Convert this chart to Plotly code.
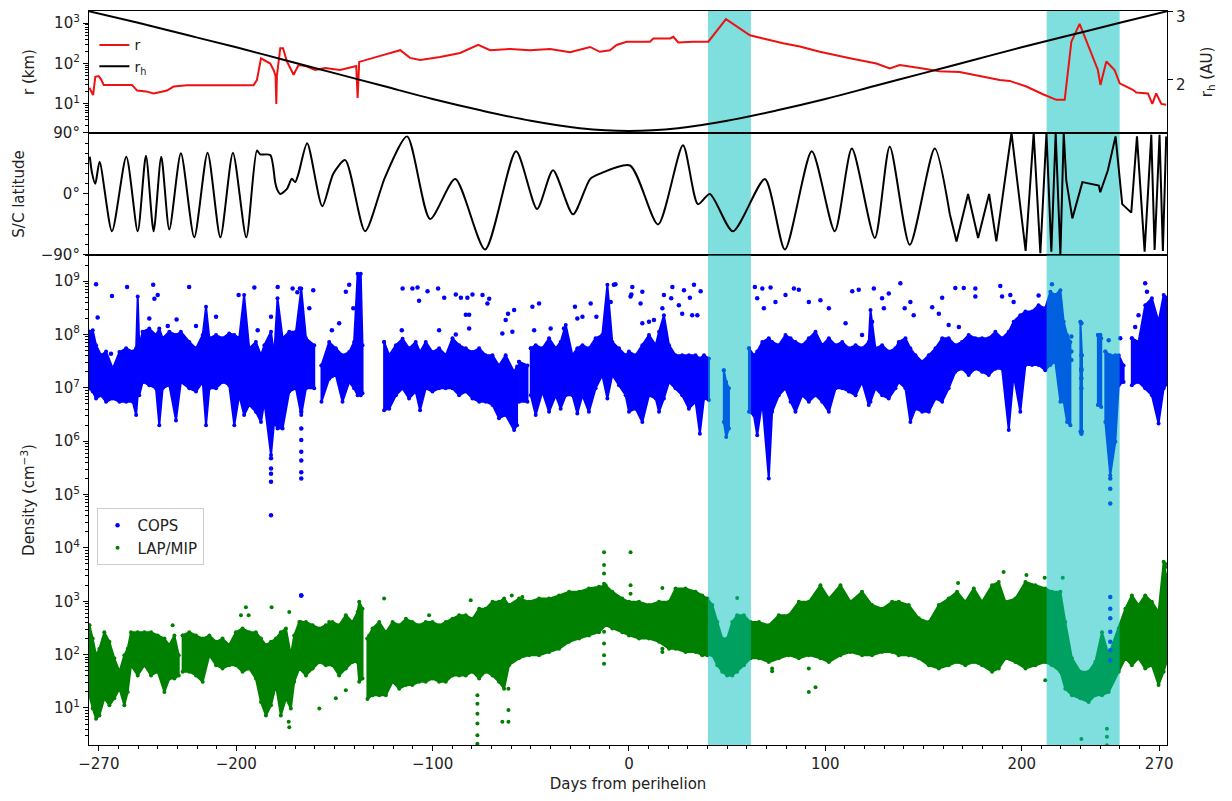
import plotly.graph_objects as go

# ---------------- data ----------------
# Top panel: cometocentric distance r (km, log10) and heliocentric distance r_h (AU)
r_day = [-274.8, -273.6, -272.9, -271.8, -270.1, -269.0, -267.5, -253.1, -250.5, -246.0, -242.1, -238.0,
         -235.3, -231.9, -225.1, -191.2, -189.5, -187.4, -182.7, -181.0, -180.0, -179.6, -179.3, -177.6,
         -176.2, -174.2, -170.8, -168.3, -164.9, -159.8, -154.7, -147.1, -142.0, -138.9, -138.2, -137.4,
         -126.7, -116.5, -111.5, -106.4, -96.2, -86.0, -76.8, -70.7, -60.6, -50.4, -40.2, -30.0, -19.8,
         -14.8, -9.7, -6.3, -1.2, 10.7, 12.4, 20.9, 22.6, 25.1, 32.7, 40.4, 49.4, 61.6, 68.3, 78.5, 87.0,
         97.2, 112.5, 126.0, 132.8, 137.9, 148.0, 158.0, 168.4, 178.6, 188.8, 193.9, 202.4, 210.8, 214.2,
         217.7, 221.9, 225.3, 229.5, 238.8, 240.1, 243.1, 247.3, 249.9, 256.6, 258.4, 264.3, 266.5, 268.5,
         271.1, 273.6]
r_log = [1.40, 1.28, 1.22, 1.67, 1.69, 1.62, 1.47, 1.47, 1.33, 1.31, 1.26, 1.30,
         1.33, 1.43, 1.46, 1.46, 1.59, 2.13, 2.00, 1.84, 1.70, 1.00, 1.70, 2.38,
         2.38, 2.05, 1.72, 1.96, 1.94, 1.84, 1.89, 1.84, 1.91, 1.94, 1.15, 2.04,
         2.19, 2.33, 2.14, 2.09, 2.16, 2.26, 2.46, 2.33, 2.36, 2.33, 2.36, 2.28, 2.41,
         2.29, 2.33, 2.46, 2.54, 2.54, 2.62, 2.62, 2.66, 2.52, 2.54, 2.54, 3.10, 2.70, 2.62, 2.50, 2.42,
         2.29, 2.13, 2.00, 1.88, 1.96, 1.89, 1.81, 1.79, 1.69, 1.59, 1.57, 1.43, 1.24, 1.17,
         1.10, 1.10, 2.54, 2.98, 1.84, 1.47, 2.05, 1.84, 1.51, 1.35, 1.28, 1.26, 1.00, 1.26,
         1.00, 0.98]

rh_day = [-275, -250, -225, -200, -175, -150, -125, -100, -75, -50, -25, 0,
          25, 50, 75, 100, 125, 150, 175, 200, 225, 250, 274]
rh_au = [3.00, 2.83, 2.65, 2.47, 2.28, 2.09, 1.90, 1.71, 1.54, 1.39, 1.28, 1.24,
         1.28, 1.39, 1.54, 1.71, 1.90, 2.09, 2.28, 2.47, 2.65, 2.83, 3.00]

# Middle panel: spacecraft latitude (deg)
lat_day = [-274.6, -273.4, -271.8, -269.6, -263.3, -256.0, -250.2, -246.0, -242.1, -238.2, -234.1,
           -228.2, -221.4, -214.6, -208.1, -201.7, -194.9, -189.5, -187.8, -182.7, -180.2, -179.3,
           -177.6, -174.2, -171.7, -170.0, -168.3, -163.9, -156.2, -150.6, -144.5, -134.4, -124.2,
           -113.0, -101.3, -88.5, -73.3, -57.5, -46.8, -38.7, -28.5, -19.8, -14.8, 0.5, 14.8, 27.5,
           35.1, 41.2, 52.9, 69.2, 79.4, 93.1, 104.8, 113.5, 125.2, 132.8, 143.0, 155.7,
           163.4, 166.8, 172.7, 177.8, 183.4, 187.1, 194.8, 202.0,
           206.1, 209.5, 212.6, 215.1, 217.3, 219.7, 221.4, 222.7, 225.8, 230.9, 239.3, 240.0, 243.9,
           247.8, 251.2, 255.8, 258.7, 262.6, 266.0, 267.7, 270.2, 271.9, 273.6]
lat_deg = [55, 30, 15, 47.5, -55, 55, -55, 56.5, -55, 55, -52.5,
           60, -64, 61, -64, 61, -64, 64, 58.5, 57.5, 17.5, 7.5,
           0, 7.5, 22.5, 17.5, 30, 75, -18, 30, 50, -55, 25,
           85, -37, 22, -82, 63, -22, 35, -30, 22, 30, 42, -45, 72,
           -15, 0, -55, 22, -82, 63, -55, 67, -65, 70, -75, 67,
           -30, -70, 0, -65, 0, -70, 90, -84,
           90, -87.5, 90, -85, 90, -90, 90, 20, -36, 17.5, 12.5, 2.5, 35,
           85, -15, -27.5, 85, -85, 87.5, -82.5, 87.5, -84, 85]
lat_smooth_until = 163.4   # the curve is smooth before this day, straight-segmented after

# Bottom panel: COPS density envelope (log10 cm^-3), separate contiguous segments
cops_day = [
    [-274.8, -273.1, -271.4, -268.9, -266.3, -262.9, -259.5, -256.1, -252.7, -251.0, -250.2, -249.4,
     -247.7, -244.3, -240.9, -239.2, -237.5, -234.1, -230.7, -228.2, -223.9, -220.5, -217.1, -215.4,
     -213.7, -210.3, -207.0, -203.6, -201.0, -198.5, -196.0, -193.4, -190.0, -187.4, -185.7, -182.3,
     -180.7, -179.0, -176.4, -173.0, -169.6, -166.9, -164.5, -160.3],
    [-156.6, -152.7, -149.3, -145.9, -142.5, -140.0, -138.2, -136.6, -135.7],
    [-124.7, -122.1, -118.7, -115.3, -112.0, -108.6, -106.4, -103.5, -100.1, -96.7, -93.3, -89.9,
     -86.5, -83.1, -79.7, -76.3, -73.0, -69.5, -66.2, -62.8, -58.5, -57.0],
    [-56.0, -51.7],
    [-50.0, -47.5, -44.1, -40.7, -37.3, -34.8, -32.2, -28.8, -26.3, -23.7, -20.4, -17.0, -13.6, -11.0,
     -8.5, -5.1, -1.7, 0.0, 3.4, 6.8, 10.2, 13.6, 15.3, 17.8, 20.4, 23.7, 27.1, 30.5, 33.9, 36.1,
     38.2, 40.7],
    [48.3, 49.5, 50.9],
    [61.1, 63.6, 65.3, 67.9, 71.2, 72.9, 76.3, 79.7, 82.3, 84.8, 88.2, 91.6, 95.0, 98.4, 101.8,
     105.2, 108.6, 112.0, 115.4, 118.7, 122.1, 123.0, 125.5, 128.9, 132.3, 135.7, 137.4, 140.8,
     143.3, 145.9, 149.3, 152.7, 156.1, 159.5, 162.8, 166.2, 169.6, 173.0, 176.4, 179.8, 183.2,
     186.6, 190.0, 193.4, 195.9, 199.3, 201.9, 205.3, 208.6, 212.0, 214.6, 217.1, 219.7, 221.4,
     223.1, 224.8],
    [229.9, 230.7],
    [238.8, 240.5],
    [242.6, 245.1, 247.7, 249.4, 251.9],
    [256.1, 259.5, 262.9, 266.3, 269.7, 272.3, 274.8],
]
cops_hi = [
    [8.05, 8.08, 7.80, 7.61, 7.68, 7.36, 7.67, 7.74, 7.68, 7.74, 8.71, 7.80,
     8.05, 8.11, 7.99, 8.11, 7.93, 8.05, 7.99, 8.05, 7.86, 7.74, 7.99, 8.52,
     7.93, 7.99, 7.93, 8.02, 7.99, 7.93, 8.74, 7.74, 7.86, 7.61, 7.80, 8.05,
     7.61, 8.68, 7.93, 8.05, 8.05, 8.86, 7.93, 7.80],
    [7.42, 7.86, 7.74, 7.61, 7.67, 7.86, 9.14, 9.14, 7.80],
    [7.86, 7.61, 7.80, 7.92, 7.74, 7.86, 7.67, 7.86, 7.67, 7.74, 7.61, 7.93,
     7.80, 7.74, 7.67, 7.74, 7.61, 7.61, 7.42, 7.61, 7.30, 7.40],
    [7.49, 7.42],
    [7.74, 7.80, 7.74, 7.93, 7.74, 7.86, 8.18, 7.61, 7.74, 7.80, 7.74, 7.93, 7.99, 8.93,
     7.86, 7.74, 7.61, 7.68, 7.61, 7.80, 7.99, 7.80, 8.05, 8.36, 7.80, 7.61, 7.61, 7.61, 7.61, 7.55,
     7.61, 7.55],
    [7.33, 7.11, 6.99],
    [7.74, 7.61, 7.68, 7.86, 7.93, 7.86, 7.80, 7.99, 7.93, 7.86, 7.80, 7.93, 8.05, 7.80, 7.93,
     7.80, 7.86, 7.74, 7.80, 7.74, 7.86, 8.46, 7.74, 7.80, 7.68, 7.74, 7.86, 7.93,
     7.74, 7.61, 7.49, 7.61, 7.74, 7.93, 7.93, 7.80, 7.86, 7.99, 7.93, 7.93, 7.93,
     8.05, 7.93, 8.05, 8.24, 8.36, 8.43, 8.43, 8.55, 8.49, 8.80, 8.74, 8.83, 8.24,
     7.99, 7.86],
    [8.24, 7.61],
    [7.99, 7.93],
    [7.68, 7.61, 7.61, 7.61, 7.42],
    [7.93, 7.86, 8.55, 8.68, 8.24, 8.74, 8.68],
]
cops_lo = [
    [6.99, 6.93, 6.80, 6.86, 6.74, 6.80, 6.74, 6.74, 6.74, 6.49, 6.86, 6.86,
     7.11, 7.05, 6.99, 6.30, 6.99, 7.05, 6.39, 7.11, 6.99, 6.93, 7.11, 6.30,
     6.99, 6.99, 7.11, 7.05, 6.30, 6.86, 6.49, 6.68, 6.55, 6.36, 6.74, 5.74,
     6.36, 6.24, 6.24, 6.93, 6.99, 6.49, 6.99, 6.99],
    [6.74, 7.17, 7.24, 6.74, 7.11, 6.99, 6.86, 6.86, 6.90],
    [6.58, 6.61, 6.86, 6.99, 6.80, 6.93, 6.58, 6.99, 6.93, 6.99, 6.99, 6.99,
     6.86, 6.93, 6.80, 6.74, 6.74, 6.68, 6.43, 6.49, 6.21, 6.30],
    [6.74, 6.74],
    [6.86, 6.49, 6.93, 6.55, 6.86, 6.61, 6.86, 6.86, 6.52, 6.86, 6.55, 6.99, 7.24, 6.80,
     7.24, 7.05, 6.86, 6.55, 6.61, 6.36, 6.86, 6.80, 6.55, 6.80, 7.11, 6.99, 6.86, 6.61, 6.74, 6.14,
     6.80, 6.77],
    [6.36, 6.08, 6.24],
    [6.55, 6.49, 6.11, 6.74, 5.30, 6.55, 6.86, 6.99, 6.74, 6.55, 6.86, 6.74, 6.86, 6.74, 6.55,
     6.99, 6.99, 6.93, 6.86, 7.11, 6.68, 6.74, 6.99, 6.86, 6.80, 6.99, 7.11, 6.99,
     6.36, 6.61, 6.55, 6.55, 6.80, 6.74, 6.99, 7.30, 7.36, 7.24, 7.36, 7.30, 7.24,
     7.36, 7.36, 6.21, 7.24, 6.55, 7.43, 7.43, 7.43, 7.33, 7.43, 7.49, 6.74, 6.74,
     6.36, 6.30],
    [6.18, 6.18],
    [6.68, 6.64],
    [6.36, 5.36, 5.99, 7.05, 7.11],
    [7.05, 7.11, 6.99, 6.86, 6.33, 6.99, 7.11],
]
cops_pt_day = [-271.4, -270.6, -263.3, -255.6, -242.3, -241.7, -240.0, -224.0, -244.3, -230.4, -220.5,
               -234.9, -210.3, -198.8, -190.8, -178.9, -171.3, -167.6, -168.9, -162.8, -160.8, -144.2,
               -142.5, -147.6, -182.3, -189.1, -151.3, -140.4, -269.7, -263.8,
               -182.3, -182.3, -182.3, -182.3, -182.3, -166.9, -166.9, -166.9, -166.9, -166.9, -166.9,
               -166.9, -166.9,
               -115.3, -110.3, -107.7, -102.6, -97.2, -94.1, -88.2, -85.6, -82.3, -79.7, -74.6, -72.1,
               -71.2, -106.9, -83.1, -81.4, -62.8, -61.6, -58.5, -49.2, -45.8, -27.5, -19.5, -26.3, -23.7,
               -16.6, -9.3, -7.7, -6.9, 1.2, -115.7, -96.7, -88.2, -81.4, -64.5, -59.4, -48.3, -39.9, -33.1,
               1.7, 6.8, 17.8, 22.1, 28.0, 33.1, 36.5, 0.8, 5.9, 21.5, 31.0, 27.1, 32.2, 17.0, 10.2, 12.7,
               25.4, 34.8, 6.8, 64.1, 67.9, 72.1, 65.3, 68.7, 74.6, 84.0, 86.5, 79.7, 91.6, 97.5, 101.8,
               113.7, 117.0, 124.7, 128.9, 132.3, 129.8, 110.3, 118.7, 123.8,
               138.2, 143.3, 159.5, 166.2, 170.5, 176.4, 176.4, 189.1, 190.0, 194.2, 195.9, 154.4, 157.8,
               162.8, 168.0, 145.0, 140.4, 208.6, 215.4, 230.4, 230.4, 230.4, 230.4, 230.4, 230.4, 230.4,
               225.3, 225.3, 225.3, 245.1, 245.1, 245.1, 240.0, 244.3, 250.2, 262.9, 263.8, 263.8, 259.5,
               257.8, -166.9, 245.1, 245.1, 245.1, 245.1, 245.1, 245.1, 245.1]
cops_pt_log = [8.94, 8.32, 8.72, 8.89, 8.93, 8.67, 8.74, 8.89, 8.30, 8.28, 8.16,
               8.16, 8.33, 8.74, 8.88, 8.89, 8.86, 8.86, 8.79, 8.49, 8.83, 8.80,
               8.93, 8.21, 8.33, 8.08, 8.08, 8.49, 7.55, 7.64,
               5.68, 5.49, 5.39, 5.24, 4.61, 6.55, 6.24, 6.02, 5.80, 5.64, 5.42, 5.30, 3.11,
               8.86, 8.86, 8.88, 8.81, 8.86, 8.69, 8.75, 8.69, 8.69, 8.75, 8.74, 8.58,
               8.67, 8.63, 8.37, 8.37, 8.27, 8.39, 8.46, 8.52, 8.58, 8.52, 8.58, 8.30, 8.33,
               8.33, 8.61, 8.93, 8.94, 8.75, 8.08, 8.08, 8.00, 8.11, 8.02, 8.05, 8.08, 8.11, 8.11,
               8.89, 8.80, 8.74, 8.89, 8.83, 8.93, 8.81, 8.71, 8.58, 8.68, 8.69, 8.39, 8.36, 8.49, 8.24,
               8.27, 8.55, 8.36, 8.21, 8.89, 8.86, 8.88, 8.68, 8.49, 8.61, 8.86, 8.84, 8.74, 8.61,
               8.64, 8.49, 8.81, 8.84, 8.86, 8.68, 8.77, 8.49, 8.21, 7.99, 8.24,
               8.96, 8.61, 8.69, 8.87, 8.87, 8.86, 8.71, 8.91, 8.71, 8.74, 8.61, 8.51, 8.39,
               8.18, 8.14, 8.36, 8.49, 8.73, 8.94, 8.21, 7.33, 6.14, 7.61, 7.36, 7.18, 6.99,
               7.96, 7.68, 7.52, 5.30, 5.11, 4.83, 7.99, 7.89, 7.93, 8.96, 8.80, 8.55, 8.36,
               8.14, 3.11, 3.08, 2.86, 2.68, 2.43, 2.24, 2.08, 1.89]

# Bottom panel: LAP/MIP density envelope (log10 cm^-3)
lap_day = [
    [-274.8, -273.1, -271.4, -269.7, -267.2, -264.6, -262.1, -259.5, -257.0, -255.3, -253.6, -250.2,
     -246.8, -243.4, -240.0, -236.6, -234.1, -231.5, -229.3],
    [-227.3, -223.9, -220.5, -217.1, -213.7, -210.3, -207.0, -203.6, -200.2, -196.8, -193.4, -190.0,
     -187.4, -184.9, -182.3, -179.8, -177.3, -174.7, -172.2, -170.5, -167.9, -164.5, -161.1, -157.7,
     -154.4, -151.0, -147.6, -144.2, -140.8, -138.2, -137.4, -135.7],
    [-133.2, -130.6, -127.2, -123.8, -120.4, -117.0, -113.6, -110.3, -106.9, -103.5, -100.1, -96.7,
     -93.3, -89.9, -86.5, -83.1, -79.7, -76.3, -73.0, -69.5, -66.2, -63.6, -61.1, -56.0, -50.9, -45.8,
     -40.7, -35.6, -30.5, -25.4, -20.4, -15.3, -11.9, -8.5, -3.4, 0.0, 5.1, 10.2, 15.3, 20.4, 23.7,
     28.8, 33.9, 37.3, 39.9, 42.4, 45.0, 47.5, 50.0, 52.6, 55.1, 58.5, 61.9, 66.2, 71.2, 76.3, 81.4,
     86.5, 91.6, 97.5, 101.8, 107.7, 112.8, 118.7, 123.8, 128.9, 134.0, 137.4, 142.5, 147.6, 152.7,
     157.8, 162.8, 167.1, 171.3, 175.6, 179.8, 184.9, 188.3, 191.7, 196.8, 201.9, 207.0, 212.0,
     215.4, 219.7, 222.2, 225.6, 229.9, 234.1, 237.5, 240.9, 244.3, 249.4, 252.8, 256.1, 259.5,
     262.9, 266.3, 269.7, 272.3, 274.8],
]
lap_hi = [
    [2.55, 2.30, 1.99, 2.11, 2.42, 2.24, 1.93, 1.68, 1.99, 2.11, 2.42, 2.42,
     2.42, 2.42, 2.36, 2.30, 2.18, 2.36, 1.99],
    [2.36, 2.42, 2.36, 2.30, 2.36, 2.24, 2.30, 2.18, 2.42, 2.49, 2.42, 2.42,
     2.30, 2.18, 2.24, 2.30, 2.42, 2.49, 1.99, 2.36, 2.61, 2.61, 2.55, 2.49,
     2.55, 2.61, 2.55, 2.74, 2.61, 2.80, 2.99, 2.86],
    [2.30, 2.49, 2.61, 2.42, 2.61, 2.55, 2.67, 2.61, 2.55, 2.61, 2.61, 2.55,
     2.61, 2.67, 2.74, 2.74, 2.67, 2.86, 2.86, 2.99, 2.99, 3.05, 2.93, 3.05, 2.99, 3.05,
     3.05, 3.11, 3.18, 3.18, 3.24, 3.27, 3.30, 3.18, 3.05, 2.99, 2.99, 2.93, 2.99, 2.99, 3.24,
     3.24, 3.18, 3.11, 3.05, 2.93, 2.61, 2.30, 2.30, 2.61, 2.74, 2.74, 2.61, 2.61, 2.55, 2.74, 2.74,
     2.99, 2.99, 3.30, 3.05, 3.30, 2.99, 3.18, 2.93, 2.86, 2.99, 2.99, 2.93, 2.68, 2.61,
     2.93, 3.05, 3.18, 2.99, 3.24, 2.99, 3.30, 3.36, 2.99, 3.05, 3.36, 3.30, 3.24,
     3.18, 3.18, 2.61, 1.93, 1.68, 1.68, 1.86, 2.42, 1.99, 2.49, 2.86, 3.11, 2.93,
     3.11, 2.99, 2.80, 3.74, 3.24],
]
lap_lo = [
    [1.24, 0.99, 0.80, 0.86, 1.18, 1.05, 1.18, 1.36, 1.05, 1.30, 1.80, 1.61,
     1.80, 1.61, 1.68, 1.30, 1.55, 1.55, 1.61],
    [1.68, 1.68, 1.61, 1.49, 1.99, 1.80, 1.74, 1.80, 1.80, 1.68, 1.74, 1.55,
     1.11, 0.86, 1.05, 1.43, 0.86, 1.18, 0.99, 1.49, 1.74, 1.61, 1.74, 1.86,
     1.80, 1.80, 1.61, 1.74, 1.86, 1.86, 1.49, 1.55],
    [1.17, 1.24, 1.24, 1.24, 1.49, 1.36, 1.43, 1.43, 1.49, 1.49, 1.55, 1.49,
     1.49, 1.61, 1.61, 1.61, 1.68, 1.55, 1.68, 1.61, 1.49, 1.36, 1.80, 1.93, 1.99, 1.99,
     2.05, 2.11, 2.24, 2.30, 2.36, 2.42, 2.55, 2.49, 2.42, 2.36, 2.30, 2.30, 2.24, 2.11, 2.11,
     2.05, 2.05, 1.99, 1.99, 1.99, 1.80, 1.68, 1.61, 1.61, 1.68, 1.80, 1.93, 1.93, 1.86, 1.93, 1.99,
     1.93, 1.99, 1.93, 1.86, 1.99, 2.05, 1.99, 1.99, 2.05, 2.05, 1.99, 1.99, 1.93, 1.80,
     1.74, 1.80, 1.86, 1.80, 1.86, 1.80, 1.68, 1.74, 1.93, 1.86, 1.74, 1.80, 1.86,
     1.80, 1.68, 1.36, 1.24, 1.18, 1.11, 1.24, 1.24, 1.30, 1.68, 1.93, 1.80, 1.93,
     1.74, 1.80, 1.43, 1.68, 1.99],
]
lap_pt_day = [-232.4, -195.1, -193.7, -197.6, -182.0, -173.0, -157.7, -149.3, -144.2, -173.3, -173.0,
              -167.1, -152.7,
              -77.2, -77.2, -77.2, -77.2, -77.2, -77.2, -64.5, -61.4, -61.4, -61.4,
              -12.7, -12.7, -12.7, -12.7, -12.7, -12.7, -12.7, -12.7, -80.6, -59.7, -124.7, -132.3,
              -101.8, -54.3,
              0.8, 0.8, 0.8, 17.0, 17.0, 17.0, 55.1, 91.6, 91.6, 95.0, 72.9, 72.9,
              167.6, 190.8, 211.7, 220.9, 212.0, 230.4, 243.4, 243.4, 243.4, 243.4, 273.1, 273.1, 202.4]
lap_pt_log = [2.55, 2.89, 2.74, 2.74, 2.89, 2.80, 0.99, 1.18, 1.33, 0.74, 0.64,
              2.61, 2.61,
              1.24, 1.08, 0.89, 0.71, 0.49, 0.33, 0.74, 0.96, 0.74, 1.36,
              3.92, 3.68, 3.52, 3.33, 2.43, 2.21, 1.99, 1.83, 3.02, 3.11, 3.05, 2.36,
              2.74, 3.08,
              3.92, 3.30, 3.14, 3.25, 2.11, 2.05, 3.06, 1.74, 1.30, 1.39, 1.74, 1.69,
              3.34, 3.55, 3.44, 3.44, 1.52, 0.42, 0.61, 0.46, 0.30, 1.99, 3.64, 3.70, 3.49]

# Shaded intervals (days from perihelion)
shade_start = [40.2, 212.7]
shade_end = [62.1, 249.9]

# ---------------- figure ----------------
FONT = "DejaVu Sans"
fig = go.Figure()

def band(days, lo, hi, color, yaxis):
    for d, l, h in zip(days, lo, hi):
        xs = list(d) + list(reversed(d))
        ys = [10 ** v for v in h] + [10 ** v for v in reversed(l)]
        fig.add_trace(go.Scatter(x=xs + [xs[0]], y=ys + [ys[0]], mode="lines+markers", fill="toself",
                                 fillcolor=color, line=dict(color=color, width=2),
                                 marker=dict(color=color, size=4),
                                 showlegend=False, hoverinfo="skip", xaxis="x", yaxis=yaxis))

band(lap_day, lap_lo, lap_hi, "#008000", "y")
fig.add_trace(go.Scatter(x=lap_pt_day, y=[10 ** v for v in lap_pt_log], mode="markers",
                         marker=dict(color="#008000", size=4), name="LAP/MIP",
                         legend="legend2", xaxis="x", yaxis="y"))
band(cops_day, cops_lo, cops_hi, "#0000ff", "y")
fig.add_trace(go.Scatter(x=cops_pt_day, y=[10 ** v for v in cops_pt_log], mode="markers",
                         marker=dict(color="#0000ff", size=4.5), name="COPS",
                         legend="legend2", xaxis="x", yaxis="y"))

# latitude: smooth part then straight-segmented part (sharing the joining point)
k = lat_day.index(lat_smooth_until)
fig.add_trace(go.Scatter(x=lat_day[:k + 1], y=lat_deg[:k + 1], mode="lines",
                         line=dict(color="black", width=2, shape="spline", smoothing=0.7),
                         showlegend=False, xaxis="x2", yaxis="y2"))
fig.add_trace(go.Scatter(x=lat_day[k:], y=lat_deg[k:], mode="lines",
                         line=dict(color="black", width=2),
                         showlegend=False, xaxis="x2", yaxis="y2"))

fig.add_trace(go.Scatter(x=r_day, y=[10 ** v for v in r_log], mode="lines",
                         line=dict(color="#ee1111", width=2), name="r", legend="legend",
                         xaxis="x3", yaxis="y3"))
fig.add_trace(go.Scatter(x=rh_day, y=rh_au, mode="lines", line=dict(color="black", width=2, shape="spline"),
                         name="r<sub>h</sub>", legend="legend", xaxis="x3", yaxis="y4"))

# shading: above the density data, below the lines in the two upper panels
for s, e in zip(shade_start, shade_end):
    fig.add_shape(type="rect", xref="x", yref="y domain", x0=s, x1=e, y0=0, y1=1,
                  fillcolor="rgba(0,191,191,0.5)", line=dict(width=0), layer="above")
    fig.add_shape(type="rect", xref="x2", yref="y2 domain", x0=s, x1=e, y0=0, y1=1,
                  fillcolor="rgba(0,191,191,0.5)", line=dict(width=0), layer="below")
    fig.add_shape(type="rect", xref="x3", yref="y3 domain", x0=s, x1=e, y0=0, y1=1,
                  fillcolor="rgba(0,191,191,0.5)", line=dict(width=0), layer="below")

XR = [-275, 274]
d_bot = [0, 0.6676]
d_mid = [0.6676, 0.8338]
d_top = [0.8338, 1.0]

axis_common = dict(showline=True, linecolor="black", linewidth=1.2, mirror=True, showgrid=False,
                   zeroline=False, ticks="outside", tickcolor="black",
                   tickfont=dict(family=FONT, size=15, color="#222"))

def log_minor(lo_exp, hi_exp):
    vals = []
    for e in range(lo_exp, hi_exp + 1):
        for m in range(2, 10):
            vals.append(m * 10 ** e)
    return vals

dens_major = [10, 100, 1000, 1e4, 1e5, 1e6, 1e7, 1e8, 1e9]
dens_text = ["10<sup>%d</sup>" % e for e in range(1, 10)]
r_major = [10, 100, 1000]
r_text = ["10<sup>1</sup>", "10<sup>2</sup>", "10<sup>3</sup>"]

# the page body has an 8 px margin: size the figure so the plot lands where the reference has it
fig.update_layout(
    width=1216, height=785,
    margin=dict(l=81, r=57, t=3, b=48, autoexpand=False),
    paper_bgcolor="white", plot_bgcolor="white",
    font=dict(family=FONT, size=15, color="#222"),
    xaxis=dict(axis_common, domain=[0, 1], anchor="y", range=XR,
               tickvals=[-270, -200, -100, 0, 100, 200, 270],
               ticktext=["\u2212270", "\u2212200", "\u2212100", "0", "100", "200", "270"],
               ticklen=5, minor=dict(ticks="outside", dtick=10, tick0=0, ticklen=3, tickcolor="black"),
               title=dict(text="Days from perihelion", font=dict(family=FONT, size=15), standoff=12)),
    xaxis2=dict(axis_common, domain=[0, 1], anchor="y2", range=XR, matches="x",
                showticklabels=False, ticks=""),
    xaxis3=dict(axis_common, domain=[0, 1], anchor="y3", range=XR, matches="x",
                showticklabels=False, ticks=""),
    yaxis=dict(axis_common, domain=d_bot, anchor="x", type="log", range=[0.306, 9.49],
               tickvals=dens_major, ticktext=dens_text, ticklen=5,
               minor=dict(ticks="outside", tickvals=log_minor(0, 9), ticklen=2.5, tickcolor="black"),
               title=dict(text="Density (cm<sup>\u22123</sup>)", font=dict(family=FONT, size=15), standoff=15)),
    yaxis2=dict(axis_common, domain=d_mid, anchor="x2", range=[-90, 90],
                tickvals=[-90, 0, 90], ticktext=["\u221290\u00b0", "0\u00b0", "90\u00b0"], ticklen=5,
                minor=dict(ticks="outside", dtick=15, tick0=0, ticklen=2.5, tickcolor="black"),
                title=dict(text="S/C latitude", font=dict(family=FONT, size=15), standoff=12)),
    yaxis3=dict(axis_common, domain=d_top, anchor="x3", type="log", range=[0.28, 3.3],
                tickvals=r_major, ticktext=r_text, ticklen=5,
                minor=dict(ticks="outside", tickvals=log_minor(0, 3), ticklen=2.5, tickcolor="black"),
                title=dict(text="r (km)", font=dict(family=FONT, size=15), standoff=15)),
    yaxis4=dict(axis_common, domain=d_top, anchor="x3", overlaying="y3", side="right",
                range=[1.21, 3.004], tickvals=[2, 3], ticktext=["2", "3"], ticklen=5, mirror=False,
                ticklabeloverflow="allow", ticklabelshift=5,
                title=dict(text="r<sub>h</sub> (AU)", font=dict(family=FONT, size=15), standoff=16)),
    legend=dict(x=0.005, y=0.975, xanchor="left", yanchor="top", bgcolor="rgba(0,0,0,0)",
                borderwidth=0, font=dict(family=FONT, size=14), tracegroupgap=0, itemwidth=30),
    legend2=dict(x=0.007, y=0.323, xanchor="left", yanchor="top", bgcolor="rgba(255,255,255,0.85)",
                 bordercolor="#cccccc", borderwidth=1, font=dict(family=FONT, size=15),
                 traceorder="reversed"),
)

fig.write_html("out.html")
